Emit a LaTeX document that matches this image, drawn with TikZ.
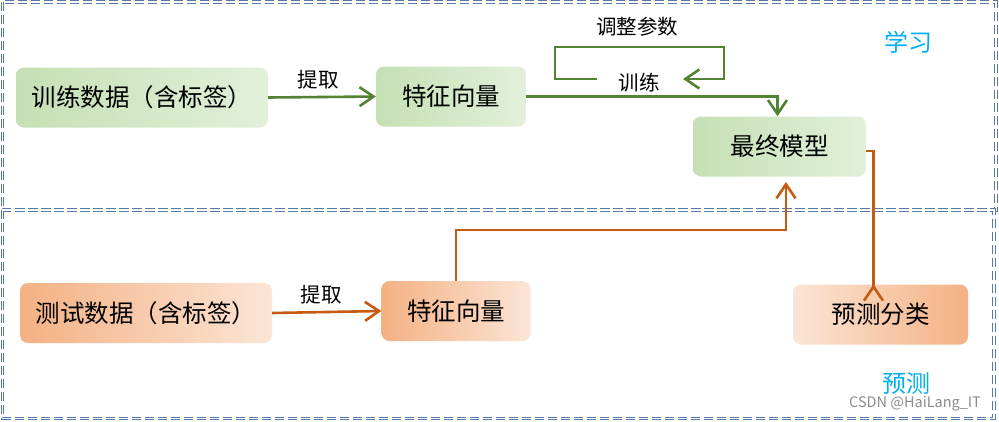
\documentclass[tikz,border=0pt]{standalone}
\usepackage{fontspec}
\setmainfont{Noto Sans CJK SC}
\usetikzlibrary{arrows.meta}
\definecolor{gline}{HTML}{548235}
\definecolor{oline}{HTML}{C55A11}
\definecolor{gdark}{HTML}{C5E0B4}
\definecolor{glight}{HTML}{E2F0D9}
\definecolor{odark}{HTML}{F4B183}
\definecolor{olight}{HTML}{FBE5D6}
\definecolor{framecol}{HTML}{5578A8}
\definecolor{cyanlbl}{HTML}{00B0F0}
\begin{document}
\begin{tikzpicture}[x=1pt,y=-1pt,
  box/.style={rounded corners=8pt, minimum height=60pt, inner sep=0pt, font=\fontsize{24.5}{28}\selectfont, text=black},
  gbox/.style={box, left color=gdark, right color=glight},
  obox/.style={box, left color=odark, right color=olight},
  orbox/.style={box, left color=olight, right color=odark},
  gconn/.style={draw=gline, line width=2.6pt, -{Straight Barb[length=14pt,width=19pt]}},
  oconn/.style={draw=oline, line width=2.6pt, -{Straight Barb[length=14pt,width=19pt]}},
  lbl/.style={font=\fontsize{20.5}{24}\selectfont, text=black, inner sep=0pt},
  sect/.style={font=\fontsize{24}{28}\selectfont, text=cyanlbl, inner sep=0pt},
  framestyle/.style={draw=framecol, line width=1pt, double=white, double distance=1.2pt, dash pattern=on 9pt off 4pt}
]
\useasboundingbox (0,0) rectangle (999,421);
\fill[white] (0,0) rectangle (999,421);
% frames
\draw[framestyle] (2.5,2) rectangle (996,210);
\draw[framestyle] (2.5,210) rectangle (994,418.5);
% nodes
\node[gbox, minimum width=252pt] (train) at (142,97.5) {训练数据（含标签）};
\node[gbox, minimum width=150pt] (feat1) at (451,96.5) {特征向量};
\node[gbox, minimum width=173pt] (model) at (779.5,146.5) {最终模型};
\node[obox, minimum width=252pt] (test) at (146,313) {测试数据（含标签）};
\node[obox, minimum width=149pt] (feat2) at (456,311) {特征向量};
\node[orbox, minimum width=175pt] (pred) at (880.5,314.5) {预测分类};
% labels
\node[lbl] (t1) at (318,80) {提取};
\node[lbl] (t2) at (321,295) {提取};
\node[lbl] (t3) at (639,83) {训练};
\node[lbl] (t4) at (637,27) {调整参数};
\node[sect] (s1) at (908,42) {学习};
\node[sect] (s2) at (906,383) {预测};
\node[font=\fontsize{14.5}{16}\selectfont, text=black!45, inner sep=0pt] (wm) at (915,404) {CSDN @HaiLang\_IT};
% connectors
\draw[gconn] (train.east) -- (feat1.west);
\draw[gconn] (feat1.east) -| ([xshift=-2pt]model.north);
\coordinate (la) at (597,79);
\coordinate (lb) at (683,79);
\draw[gconn] (la) -- (555,79) -- (555,47) -- (724,47) -- (724,79) -- (lb);
\draw[oconn] (test.east) -- (feat2.west);
\coordinate (up) at (786,182);
\draw[oconn] (feat2.north) -- ++(0,-51) -| (up);
\draw[oconn] ([shift={(0,4.5)}]model.east) -- ++(7,0) |- ([xshift=-7pt]pred.north) -- ([xshift=-7pt]pred.north);
\end{tikzpicture}
\end{document}
